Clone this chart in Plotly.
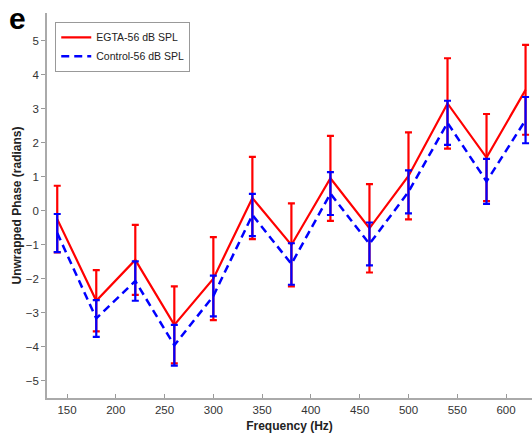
import plotly.graph_objects as go

freq = [140, 180, 220, 260, 300, 340, 380, 420, 460, 500, 540, 580, 620]
egta_mean = [-0.24, -2.64, -1.44, -3.35, -1.99, 0.38, -1.0, 0.96, -0.51, 1.03, 3.16, 1.57, 3.56]
egta_err = [0.98, 0.9, 1.03, 1.13, 1.22, 1.21, 1.22, 1.25, 1.3, 1.28, 1.33, 1.28, 1.32]
ctrl_mean = [-0.65, -3.16, -2.06, -3.95, -2.5, -0.12, -1.56, 0.51, -0.97, 0.56, 2.59, 0.87, 2.67]
ctrl_err = [0.56, 0.54, 0.58, 0.6, 0.6, 0.62, 0.61, 0.63, 0.63, 0.63, 0.65, 0.66, 0.68]

x_ticks = [150, 200, 250, 300, 350, 400, 450, 500, 550, 600]
y_ticks = [-5, -4, -3, -2, -1, 0, 1, 2, 3, 4, 5]

fig = go.Figure()
fig.add_trace(go.Scatter(
    x=freq, y=egta_mean, mode="lines", name="EGTA-56 dB SPL",
    line=dict(color="#ff0000", width=2.2),
    error_y=dict(type="data", array=egta_err, visible=True, color="#ff0000", thickness=2.2, width=3.5),
))
fig.add_trace(go.Scatter(
    x=freq, y=ctrl_mean, mode="lines", name="Control-56 dB SPL",
    line=dict(color="#0000ff", width=2.5, dash="8px,5px"),
    error_y=dict(type="data", array=ctrl_err, visible=True, color="#0000ff", thickness=2.2, width=3.5),
))

fig.update_layout(
    width=532, height=437,
    margin=dict(l=47, r=0, t=13, b=39),
    paper_bgcolor="white", plot_bgcolor="white",
    font=dict(family="Liberation Sans, Arial, sans-serif", size=11, color="#333333"),
    showlegend=True,
    legend=dict(
        x=0.017, y=0.977, xanchor="left", yanchor="top",
        bordercolor="#999999", borderwidth=1, bgcolor="white",
        font=dict(size=10.5, color="#222222"),
        tracegroupgap=0, itemwidth=30,
    ),
    xaxis=dict(
        range=[129.5, 626.6], tickvals=x_ticks, ticks="inside", ticklen=4,
        tickcolor="#999999", showline=True, linecolor="#aaaaaa", linewidth=1.5,
        showgrid=False, zeroline=False, mirror=False,
        title=dict(text="<b>Frequency (Hz)</b>", font=dict(size=12, color="#222222"), standoff=7),
        tickfont=dict(size=11.5, color="#333333"),
    ),
    yaxis=dict(
        range=[-5.5, 5.82], tickvals=y_ticks, ticks="outside", ticklen=4,
        tickcolor="#999999", showline=True, linecolor="#aaaaaa", linewidth=1.5,
        showgrid=False, zeroline=False, mirror=False,
        title=dict(text="<b>Unwrapped Phase (radians)</b>", font=dict(size=12, color="#222222"), standoff=2),
        tickfont=dict(size=11.5, color="#333333"),
    ),
    annotations=[dict(
        text="<b>e</b>", xref="paper", yref="paper", x=-0.082, y=1.035,
        xanchor="left", yanchor="top", showarrow=False,
        font=dict(size=30, color="black", family="Liberation Sans, Arial, sans-serif"),
    )],
)

fig.write_html("out.html")
